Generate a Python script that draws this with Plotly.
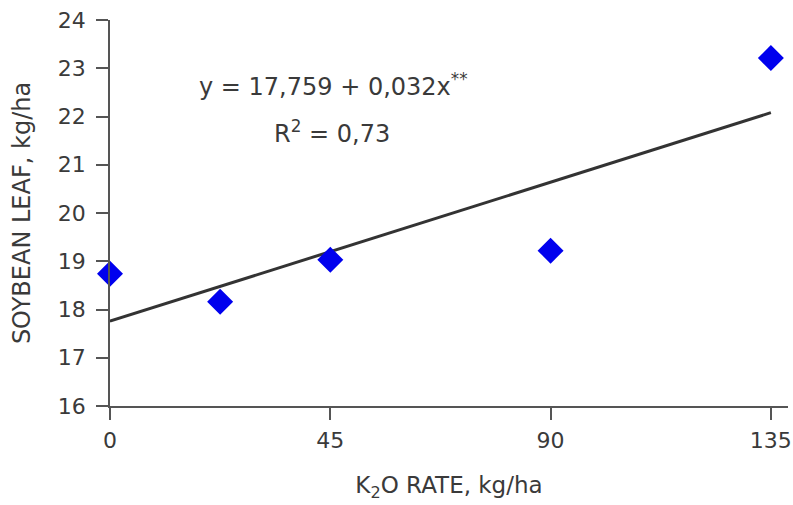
import plotly.graph_objects as go

# Data
k2o_rate = [0, 22.5, 45, 90, 135]
soybean_leaf = [18.74, 18.16, 19.03, 19.22, 23.21]

# Regression equation shown on the chart
intercept = 17.759
slope = 0.032
trend_x = [0, 135]
trend_y = [intercept + slope * x for x in trend_x]

x_ticks = [0, 45, 90, 135]
y_ticks = [16, 17, 18, 19, 20, 21, 22, 23, 24]

FONT = "DejaVu Sans, Liberation Sans, Arial, sans-serif"
AXIS_COLOR = "#555555"
TEXT_COLOR = "#3a3a3a"

fig = go.Figure()

fig.add_trace(go.Scatter(
    x=trend_x, y=trend_y, mode="lines",
    line=dict(color="#333333", width=3),
    showlegend=False, hoverinfo="skip", cliponaxis=False,
))

fig.add_trace(go.Scatter(
    x=k2o_rate, y=soybean_leaf, mode="markers",
    marker=dict(symbol="diamond", size=20, color="#0000EE",
                line=dict(width=0)),
    showlegend=False, cliponaxis=False,
))

fig.add_annotation(
    x=45.7, y=22.65, xref="x", yref="y",
    text="y = 17,759 + 0,032x<sup>**</sup>",
    showarrow=False, font=dict(family=FONT, size=24, color=TEXT_COLOR),
)
fig.add_annotation(
    x=45.3, y=21.68, xref="x", yref="y",
    text="R<sup>2</sup> = 0,73",
    showarrow=False, font=dict(family=FONT, size=24, color=TEXT_COLOR),
)

fig.update_layout(
    width=793, height=505,
    margin=dict(l=110, r=5, t=20, b=99),
    paper_bgcolor="white", plot_bgcolor="white",
    font=dict(family=FONT, color=TEXT_COLOR),
    xaxis=dict(
        range=[0, 138.5], automargin=False,
        tickmode="array", tickvals=x_ticks,
        ticktext=[str(v) for v in x_ticks],
        ticks="outside", ticklen=12, tickwidth=1.5, tickcolor=AXIS_COLOR,
        showline=True, linecolor=AXIS_COLOR, linewidth=1.5,
        showgrid=False, zeroline=False,
        tickfont=dict(family=FONT, size=22, color=TEXT_COLOR),
        ticklabelstandoff=2, ticklabeloverflow="allow",
        title=dict(text="K<sub>2</sub>O RATE, kg/ha",
                   font=dict(family=FONT, size=23, color=TEXT_COLOR),
                   standoff=25),
    ),
    yaxis=dict(
        range=[16, 24], automargin=False,
        tickmode="array", tickvals=y_ticks,
        ticktext=[str(v) for v in y_ticks],
        ticks="outside", ticklen=12, tickwidth=1.5, tickcolor=AXIS_COLOR,
        showline=True, linecolor=AXIS_COLOR, linewidth=1.5,
        showgrid=False, zeroline=False,
        tickfont=dict(family=FONT, size=22, color=TEXT_COLOR),
        ticklabelstandoff=6, ticklabeloverflow="allow",
        title=dict(text="SOYBEAN LEAF, kg/ha",
                   font=dict(family=FONT, size=24, color=TEXT_COLOR),
                   standoff=20),
    ),
)

# Remove the browser's default page margin so the figure fills the window
fig.write_html(
    "out.html",
    config={"displayModeBar": False},
    post_script="document.body.style.margin='0';document.body.style.overflow='hidden';",
)
